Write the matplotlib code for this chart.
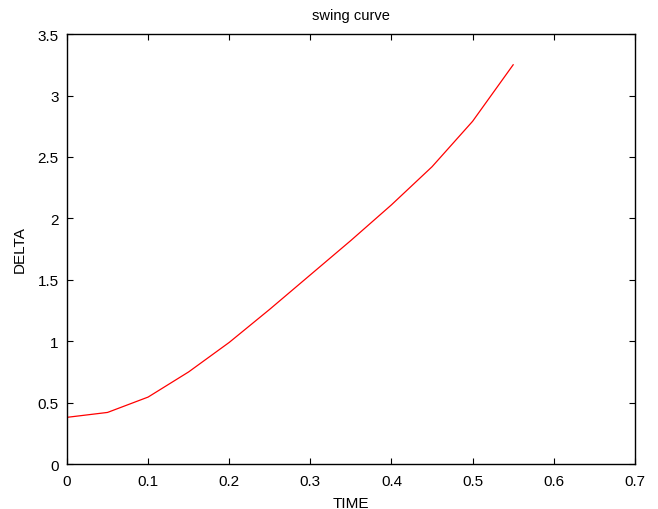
import matplotlib
matplotlib.use("Agg")
import matplotlib.pyplot as plt

# swing curve data
time = [0, 0.05, 0.1, 0.15, 0.2, 0.25, 0.3, 0.35, 0.4, 0.45, 0.5, 0.55]
delta = [0.38, 0.42, 0.545, 0.75, 0.99, 1.26, 1.54, 1.82, 2.11, 2.42, 2.79, 3.25]
xticks = [0, 0.1, 0.2, 0.3, 0.4, 0.5, 0.6, 0.7]
yticks = [0, 0.5, 1, 1.5, 2, 2.5, 3, 3.5]

plt.rcParams['font.family'] = ['Liberation Sans', 'DejaVu Sans']
plt.rcParams['font.size'] = 11

fig = plt.figure(figsize=(6.58, 5.10), dpi=100)
ax = fig.add_axes([0.1018, 0.0882, 0.863, 0.843])

ax.plot(time, delta, color='red', linewidth=0.9)

ax.set_xlim(0, 0.7)
ax.set_ylim(0, 3.5)
ax.set_xticks(xticks)
ax.set_yticks(yticks)
ax.set_xticklabels([f"{v:g}" for v in xticks])
ax.set_yticklabels([f"{v:g}" for v in yticks])
ax.tick_params(direction='in', length=4, width=0.8, top=True, right=True)
ax.tick_params(axis='x', pad=7)
ax.tick_params(axis='y', pad=6)
for s in ax.spines.values():
    s.set_linewidth(1.0)

ax.set_xlabel('TIME', labelpad=6)
ax.set_ylabel('DELTA', labelpad=8)
ax.set_title('swing curve', fontsize=10.5, pad=11)

fig.savefig('out.png', dpi=100)
